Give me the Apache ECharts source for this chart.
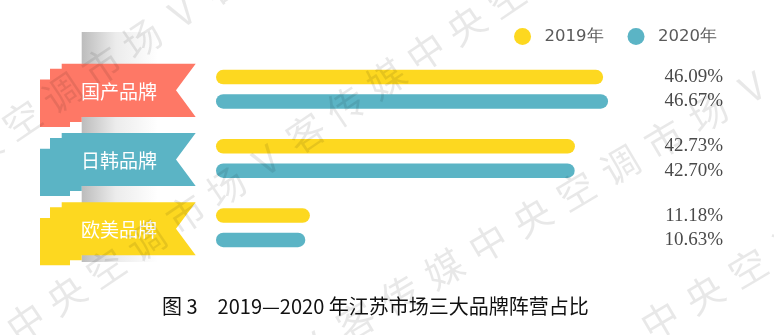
<!DOCTYPE html>
<html><head><meta charset="utf-8">
<script src="https://cdn.jsdelivr.net/npm/echarts@6/dist/echarts.min.js"></script>
<style>html,body{margin:0;padding:0;background:#fff}#c{width:774px;height:335px}</style>
</head><body><div id="c"></div>
<script>
const categories = ['国产品牌', '日韩品牌', '欧美品牌'];
const seriesNames = ['2019年', '2020年'];
const values2019 = [46.09, 42.73, 11.18];
const values2020 = [46.67, 42.70, 10.63];
const titleText = '图 3\u30002019—2020 年江苏市场三大品牌阵营占比';

const YELLOW = '#fdd820', TEAL = '#5bb4c5', SALMON = '#fe7866';
const ribbonColors = [SALMON, TEAL, YELLOW];

const chart = echarts.init(document.getElementById('c'), null, {renderer: 'canvas'});

function wmLine(str, x0, y0, dx, dy) {
  const out = [];
  const ang = Math.atan2(-dy, dx);
  for (let k = 0; k < str.length; k++) {
    out.push({
      type: 'text', z: 100, silent: true,
      x: x0 + dx * k, y: y0 + dy * k, rotation: ang,
      style: {text: str[k], fill: 'rgba(0,0,0,0.09)', font: '38px "Noto Sans CJK SC"', align: 'center', verticalAlign: 'middle'}
    });
  }
  return out;
}
const wm1 = '中央空调市场V客';
const wm2 = '中央空调市场V客传媒中央空调';
const wm3 = '场V客传媒中央空调市场V';
const wm4 = '中央空调';

const labelStyle = {
  show: true,
  formatter: p => p.value.toFixed(2) + '%',
  fontFamily: '"Liberation Serif", "Times New Roman", serif',
  fontSize: 19,
  color: '#4a4a4a'
};
const labelLayoutFn = p => ({x: chart.getWidth() - 51, y: p.rect.y + p.rect.height / 2, align: 'right', verticalAlign: 'middle'});

chart.setOption({
  animation: false,
  backgroundColor: '#ffffff',
  title: {
    text: titleText, left: 162, top: 296, padding: 0,
    textStyle: {fontFamily: '"Noto Sans CJK SC"', fontSize: 20, fontWeight: 'normal', color: '#111', lineHeight: 21}
  },
  legend: {
    data: seriesNames, right: 52, top: 23, icon: 'circle',
    itemWidth: 34, itemHeight: 17, itemGap: 24,
    textStyle: {fontFamily: '"DejaVu Sans"', fontSize: 16.5, color: '#5a5a5a'}
  },
  grid: {left: 216, right: 54, top: 54.7, bottom: 72.7, containLabel: false},
  xAxis: {type: 'value', min: 0, max: 60, show: false},
  yAxis: {type: 'category', data: categories, inverse: true, show: false},
  graphic: [
    {type: 'rect', z: 0, silent: true, shape: {x: 81.7, y: 32, width: 76, height: 230},
     style: {fill: new echarts.graphic.LinearGradient(0, 0, 1, 0, [
       {offset: 0, color: '#bcbcbc'}, {offset: 0.45, color: '#ececec'}, {offset: 1, color: '#ffffff'}])}}
  ].concat(
    wmLine(wm1, -58, 174, 40, -27),
    wmLine(wm2, 26, 322, 40, -27),
    wmLine(wm3, 268, 373, 44, -26),
    wmLine(wm4, 660, 320, 44, -26)
  ),
  series: [
    {
      name: seriesNames[0], type: 'bar', data: values2019,
      barWidth: 14.5, barGap: '68%',
      itemStyle: {color: YELLOW, borderRadius: 7.25},
      label: labelStyle, labelLayout: labelLayoutFn
    },
    {
      name: seriesNames[1], type: 'bar', data: values2020,
      barWidth: 14.5, barGap: '68%',
      itemStyle: {color: TEAL, borderRadius: 7.25},
      label: labelStyle, labelLayout: labelLayoutFn
    },
    {
      name: 'ribbons', type: 'custom', clip: false, z: 3, silent: true,
      data: categories.map((c, i) => [0, i]),
      encode: {x: 0, y: 1},
      renderItem: function (params, api) {
        const i = params.dataIndex;
        const p = api.coord([0, api.value(1)]);
        const xl = p[0], cy = p[1];
        const top = cy - 25.5, bot = cy + 27.6, mid = cy + 1;
        const pts = [
          [xl - 154.3, top], [xl - 20.3, top], [xl - 40, mid], [xl - 20.3, bot],
          [xl - 134.3, bot], [xl - 134.3, bot + 5], [xl - 146, bot + 5], [xl - 146, bot + 10],
          [xl - 176, bot + 10], [xl - 176, top + 15.7], [xl - 166, top + 15.7], [xl - 166, top + 5],
          [xl - 154.3, top + 5]
        ];
        return {
          type: 'group',
          children: [
            {type: 'polygon', shape: {points: pts}, style: {fill: ribbonColors[i]}},
            {type: 'text', style: {text: categories[i], x: xl - 97, y: cy + 2.5, align: 'center', verticalAlign: 'middle',
              fill: '#ffffff', font: '19px "Noto Sans CJK SC"'}}
          ]
        };
      }
    }
  ]
});
</script></body></html>
